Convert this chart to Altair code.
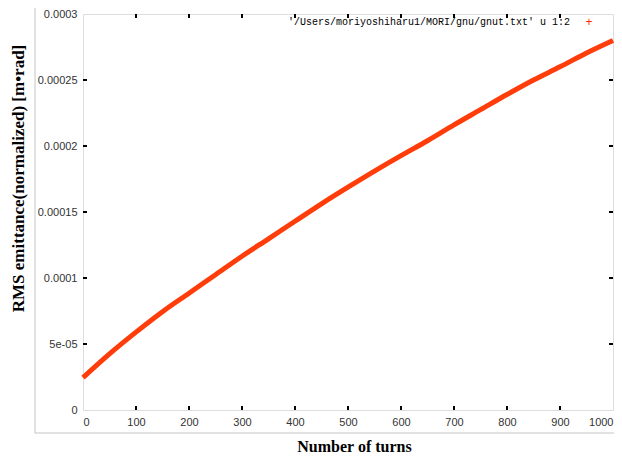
import altair as alt
import pandas as pd

# Data
turns = [0, 50, 100, 150, 200, 250, 300, 350, 400, 450, 500, 550, 600, 650,
         700, 750, 800, 850, 900, 950, 1000]
emittance = [2.45e-5, 4.25e-5, 5.9e-5, 7.45e-5, 8.85e-5, 1.025e-4, 1.165e-4,
             1.297e-4, 1.43e-4, 1.562e-4, 1.688e-4, 1.81e-4, 1.927e-4, 2.04e-4,
             2.16e-4, 2.275e-4, 2.39e-4, 2.5e-4, 2.6e-4, 2.705e-4, 2.80e-4]
x_ticks = [0, 100, 200, 300, 400, 500, 600, 700, 800, 900, 1000]
y_ticks = [0, 0.00005, 0.0001, 0.00015, 0.0002, 0.00025, 0.0003]
y_labels = ["0", "5e-05", "0.0001", "0.00015", "0.0002", "0.00025", "0.0003"]
legend_label = "'/Users/moriyoshiharu1/MORI/gnu/gnut.txt' u 1:2"

W, H = 530, 396
df = pd.DataFrame({"turns": turns, "emit": emittance})
xt = pd.DataFrame({"t": x_ticks[1:-1]})
yt = pd.DataFrame({"v": y_ticks[1:-1]})

xscale = alt.Scale(domain=[0, 1000], nice=False)
yscale = alt.Scale(domain=[0, 0.0003], nice=False)

lab_expr = "[" + ",".join("'%s'" % s for s in y_labels) + "][round(datum.value/0.00005)]"

line = alt.Chart(df).mark_line(color="#ff3d0a", strokeWidth=5, interpolate="monotone").encode(
    x=alt.X("turns:Q", scale=xscale,
            axis=alt.Axis(title="Number of turns", values=x_ticks, format="d",
                          ticks=False, domain=False, grid=False,
                          labelFont="Liberation Sans",
                          labelFontSize=11, labelColor="#333", labelPadding=6,
                          titleFont="Liberation Serif", titleFontSize=16,
                          titleFontWeight="bold", titleColor="black",
                          titleY=41, titleBaseline="alphabetic", titleX=271)),
    y=alt.Y("emit:Q", scale=yscale,
            axis=alt.Axis(title="RMS emittance(normalized) [m\u2022rad]",
                          values=y_ticks, labelExpr=lab_expr, ticks=False,
                          domain=False, grid=False, labelFont="Liberation Sans",
                          labelFontSize=11, labelColor="#333", labelPadding=6,
                          titleFont="Liberation Serif", titleFontSize=17,
                          titleFontWeight="bold", titleColor="black",
                          titleX=-60, titleY=164, titleAngle=-90,
                          titleBaseline="alphabetic", titleAlign="center")),
)

tick_bottom = alt.Chart(xt).mark_rule(color="black", strokeWidth=2).encode(
    x=alt.X("t:Q", scale=xscale), y=alt.value(H), y2=alt.value(H - 4))
tick_top = alt.Chart(xt).mark_rule(color="black", strokeWidth=2).encode(
    x=alt.X("t:Q", scale=xscale), y=alt.value(0), y2=alt.value(4))
tick_left = alt.Chart(yt).mark_rule(color="black", strokeWidth=2).encode(
    y=alt.Y("v:Q", scale=yscale), x=alt.value(0), x2=alt.value(4))
tick_right = alt.Chart(yt).mark_rule(color="black", strokeWidth=2).encode(
    y=alt.Y("v:Q", scale=yscale), x=alt.value(W), x2=alt.value(W - 4))

frame_v = alt.Chart(pd.DataFrame({"a": [0]})).mark_rule(color="#c4c4c4", strokeWidth=1).encode(
    x=alt.value(-48), y=alt.value(-14), y2=alt.value(419))
frame_h = alt.Chart(pd.DataFrame({"a": [0]})).mark_rule(color="#c4c4c4", strokeWidth=1).encode(
    x=alt.value(-48), x2=alt.value(W + 20), y=alt.value(419))

leg = pd.DataFrame({"label": [legend_label], "sym": ["+"]})
leg_text = alt.Chart(leg).mark_text(font="Liberation Mono", fontSize=10, align="right",
                                    baseline="middle", color="black").encode(
    text="label:N", x=alt.value(487), y=alt.value(8))
leg_mark = alt.Chart(leg).mark_text(font="Liberation Sans", fontSize=12, align="center",
                                    baseline="middle", color="#ff2a00").encode(
    text="sym:N", x=alt.value(506), y=alt.value(8))

chart = alt.layer(frame_v, frame_h, line, tick_bottom, tick_top, tick_left,
                  tick_right, leg_text, leg_mark).properties(
    width=W, height=H,
    autosize=alt.AutoSizeParams(type="none"),
    padding={"left": 75, "top": 6, "right": 1, "bottom": 43},
).configure_view(stroke="black", strokeWidth=2).configure(background="white")

chart.save("out.html", embed_options={"renderer": "svg", "actions": False})
